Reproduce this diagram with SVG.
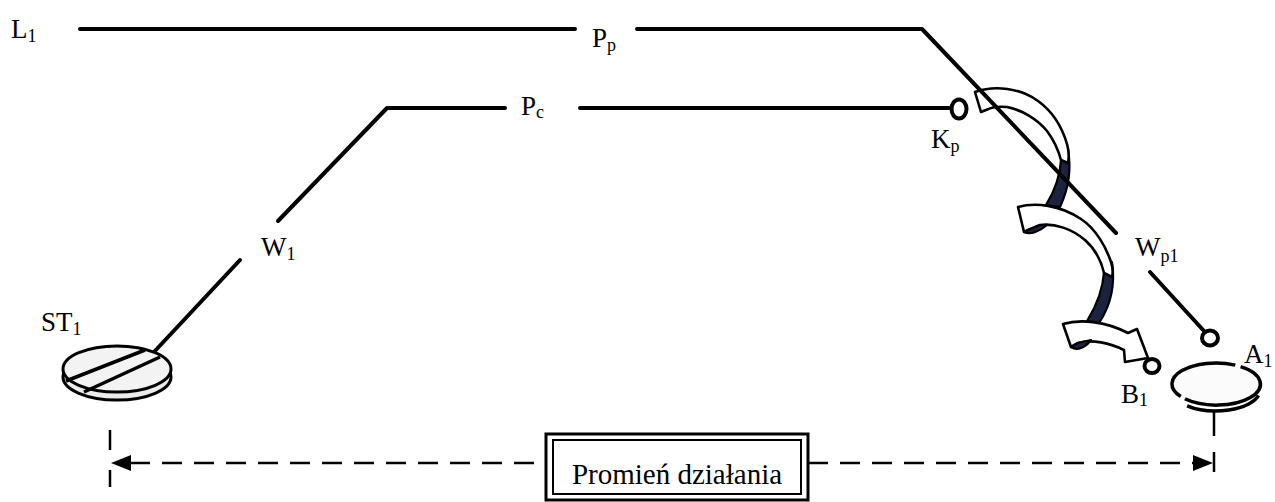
<svg xmlns="http://www.w3.org/2000/svg" width="1275" height="502" viewBox="0 0 1275 502">
<style>
.w{fill:none;stroke:#000;stroke-width:4;stroke-linecap:round;stroke-linejoin:round}
.t{font-family:"Liberation Serif","Times New Roman",serif;font-size:27px;fill:#000}
.s{font-size:18px}
.ring{fill:#fff;stroke:#000;stroke-width:4}
.rib{fill:#fff;stroke:#000;stroke-width:2.6;stroke-linejoin:round}
.dark{fill:#1c2340;stroke:#000;stroke-width:2.2;stroke-linejoin:round}
.dash{fill:none;stroke:#000;stroke-width:2.5;stroke-dasharray:20 12}
.tick{fill:none;stroke:#000;stroke-width:2.5}
</style>
<rect width="1275" height="502" fill="#fff"/>

<g id="ribbon-arrow">
  <path class="dark" d="M1068,150 C1072,172 1067,192 1060,207 L1046,205 C1054,192 1060,178 1061,160 Z"/>
  <path class="rib" d="M975,92 C995,85 1020,88 1038,101 C1052,111 1062,127 1067,144 C1069,151 1069,158 1068,163 L1061,160 C1058,149 1053,139 1047,131 C1037,119 1022,110 1007,107 C998,106 992,107 986,110 L981,112 Z"/>
  <path class="dark" d="M1112,262 C1116,288 1109,308 1099,323 L1087,321 C1097,305 1103,288 1104,272 Z"/>
  <path class="rib" d="M1018,207 C1035,202 1060,205 1081,219 C1096,229 1106,247 1111,262 C1113,268 1113,273 1112,277 L1104,273 C1101,260 1094,248 1085,240 C1072,229 1055,223 1040,225 L1028,230 L1024,232 Z"/>
  <path class="dark" d="M1024,232 C1030,235 1039,232 1047,225 L1040,225 L1028,230 Z"/>
  <path class="rib" d="M1063,324 C1080,319 1105,321 1128,333 L1137,329 L1148,358 L1125,362 L1124,350 C1110,343 1092,339 1078,343 L1071,347 Z"/>
  <path class="dark" d="M1071,347 C1077,351 1085,348 1091,340 L1078,343 Z"/>
</g>

<g id="connectors">
  <path class="w" d="M80,29 L575,29"/>
  <path class="w" d="M637,29 L922,29 L1116,233"/>
  <path class="w" d="M1150,272 L1204,331"/>
  <path class="w" d="M505,108 L387,108 L278,221"/>
  <path class="w" d="M240,260 L154,352"/>
  <path class="w" d="M580,108 L949,108"/>
</g>

<g id="Kp">
  <ellipse class="ring" cx="959" cy="109" rx="7.5" ry="9.5"/>
  <text class="t" x="931" y="148">K<tspan class="s" dy="4">p</tspan></text>
</g>

<g id="Wp1">
  <ellipse class="ring" cx="1210" cy="338" rx="8" ry="7.5"/>
</g>

<g id="B1">
  <ellipse class="ring" cx="1152" cy="366" rx="7.5" ry="7"/>
  <text class="t" x="1121" y="403">B<tspan class="s" dy="3">1</tspan></text>
</g>

<g id="A1">
  <ellipse cx="1216" cy="384" rx="44" ry="21" fill="#fbfbfb"/>
  <path fill="none" stroke="#000" stroke-width="3.5" d="M1240.6,366.6 A44 21 0 1 1 1184.9,398.8"/>
  <path fill="none" stroke="#000" stroke-width="3.5" d="M1180.8,396.6 A44 21 0 0 1 1235.3,365.1"/>
  <path fill="none" stroke="#000" stroke-width="3.5" d="M1258.5,395.4 A44 21 0 0 1 1187.1,405.8"/>
  <text class="t" x="1244" y="363">A<tspan class="s" dy="4">1</tspan></text>
</g>

<g id="ST1">
  <ellipse cx="117" cy="377" rx="54" ry="23" fill="#ececec" stroke="#000" stroke-width="3"/>
  <ellipse cx="117" cy="369" rx="54" ry="23" fill="#f3f3f3" stroke="#000" stroke-width="3"/>
  <path fill="none" stroke="#000" stroke-width="3.5" d="M66,381 L145,350 M84,392 L160,357"/>
  <text class="t" x="41" y="331">ST<tspan class="s" dy="4">1</tspan></text>
</g>

<g id="labels">
  <text class="t" x="11" y="38">L<tspan class="s" dy="4">1</tspan></text>
  <text class="t" x="592" y="47">P<tspan class="s" dy="4">p</tspan></text>
  <text class="t" x="521" y="115">P<tspan class="s" dy="3">c</tspan></text>
  <text class="t" x="261" y="256">W<tspan class="s" dy="4">1</tspan></text>
  <text class="t" x="1135" y="256">W<tspan class="s" dy="6">p1</tspan></text>
</g>

<g id="dimension">
  <path class="tick" d="M110,430 V450 M110,470 V487"/>
  <path class="tick" d="M1214,410 V436 M1214,452 V472"/>
  <path class="dash" d="M130,463 H546"/>
  <path class="dash" d="M808,463 H1195"/>
  <path d="M111,463 L131,455 L131,471 Z" fill="#000"/>
  <path d="M1213,463 L1193,455 L1193,471 Z" fill="#000"/>
</g>

<g id="label-box">
  <rect x="546" y="434" width="262" height="66" fill="#fff" stroke="#000" stroke-width="3"/>
  <rect x="553" y="440" width="248" height="54" fill="none" stroke="#000" stroke-width="2"/>
  <text class="t" x="677" y="484" text-anchor="middle" style="font-size:29px">Promień działania</text>
</g>
</svg>
